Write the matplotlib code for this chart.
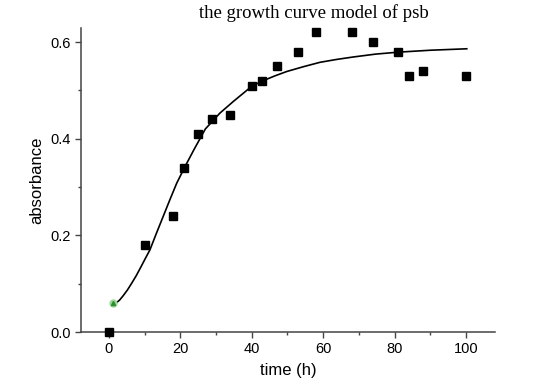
import numpy as np
import matplotlib.pyplot as plt
from matplotlib.ticker import MultipleLocator

# measured points
time_h = [0, 10, 18, 21, 25, 29, 34, 40, 43, 47, 53, 58, 68, 74, 81, 84, 88, 100]
absorb = [0.0, 0.18, 0.24, 0.34, 0.41, 0.44, 0.45, 0.51, 0.52, 0.55, 0.58, 0.62, 0.62, 0.60, 0.58, 0.53, 0.54, 0.53]

# starting point (green)
start_t = [1.1]
start_a = [0.06]

# fitted curve
fit_t = [1.7, 3, 4, 5.2, 6.4, 7.7, 9, 10.2, 11.5, 13.3, 15.2, 17.1, 19, 21.3, 23.8, 27, 31.1, 35, 40.1, 43.2, 46.5,
         49.8, 54.5, 59.1, 63.8, 68.4, 74.7, 81, 90, 100.2]
fit_a = [0.058, 0.066, 0.075, 0.087, 0.101, 0.117, 0.135, 0.152, 0.170, 0.204, 0.239, 0.274, 0.308, 0.342, 0.377,
         0.420, 0.453, 0.478, 0.509, 0.520, 0.530, 0.539, 0.549, 0.558, 0.564, 0.569, 0.575, 0.579, 0.583, 0.586]

fig = plt.figure(figsize=(5.54, 3.91), dpi=100)
ax = fig.add_axes([81/554, 1-332/391, (495-81)/554, (332-28)/391])

ax.plot(fit_t, fit_a, color='black', lw=1.2, zorder=2)
ax.plot(time_h, absorb, 's', color='black', ms=5.5, clip_on=False, zorder=3)
ax.plot(start_t, start_a, 'o', color='#9ed89a', ms=5, zorder=4)
ax.plot(start_t, start_a, '^', color='#2f8f2f', ms=3, zorder=5)

ax.set_xlim(-7.8, 108.1)
ax.set_ylim(0, 0.629)
ax.xaxis.set_major_locator(MultipleLocator(20))
ax.xaxis.set_minor_locator(MultipleLocator(10))
ax.yaxis.set_major_locator(MultipleLocator(0.2))
ax.yaxis.set_minor_locator(MultipleLocator(0.1))
ax.yaxis.set_major_formatter(plt.FormatStrFormatter('%.1f'))

for s in ['top', 'right']:
    ax.spines[s].set_visible(False)
for s in ['left', 'bottom']:
    ax.spines[s].set_color('#444444')
    ax.spines[s].set_linewidth(1.1)

ax.tick_params(which='major', direction='out', length=4, width=1, color='#444444', labelsize=10.5)
ax.tick_params(which='minor', direction='out', length=2.5, width=1, color='#444444')
for lab in ax.get_xticklabels() + ax.get_yticklabels():
    lab.set_family('Liberation Sans')

ax.set_xlabel('time (h)', fontsize=12, family='Liberation Sans', labelpad=5)
ax.set_ylabel('absorbance', fontsize=12, family='Liberation Sans', labelpad=4)

fig.text(314/554, 1-13/391, 'the growth curve model of psb', ha='center', va='center',
         fontsize=13.5, family='Liberation Serif')

fig.savefig('out.png', dpi=100)
